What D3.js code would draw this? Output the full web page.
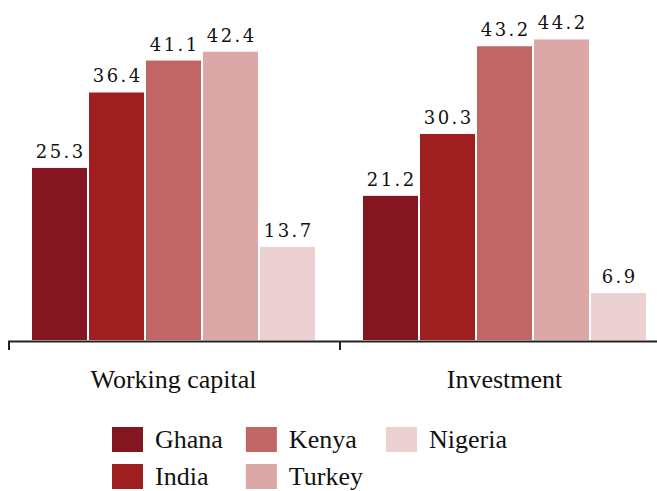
<!DOCTYPE html>
<html>
<head>
<meta charset="utf-8">
<script src="https://cdn.jsdelivr.net/npm/d3@7"></script>
<style>
  html, body { margin: 0; padding: 0; background: #fff; }
  svg { display: block; }
  text { font-family: "Liberation Serif", "Times New Roman", serif; fill: #111; }
</style>
</head>
<body>
<svg id="chart" width="657" height="491"></svg>
<script>
// Share of firms (%) by purpose and country
const purposes = ["Working capital", "Investment"];
const countries = ["Ghana", "India", "Kenya", "Turkey", "Nigeria"];
const colors = ["#831620", "#a01f21", "#c06665", "#dba7a7", "#ecd1d2"];
const workingCapital = [25.3, 36.4, 41.1, 42.4, 13.7];
const investment = [21.2, 30.3, 43.2, 44.2, 6.9];

const seriesByPurpose = [workingCapital, investment];
const data = purposes.map((p, i) => ({
  purpose: p,
  values: countries.map((c, j) => ({ country: c, value: seriesByPurpose[i][j] }))
}));

const svg = d3.select("#chart");
const baseY = 340;

const x0 = d3.scaleBand().domain(purposes).range([8, 670]);
const x1 = d3.scaleBand().domain(countries).range([24, 307]).paddingInner(0.035);
const y = d3.scaleLinear().domain([0, 50]).range([baseY, 0]);
const color = d3.scaleOrdinal().domain(countries).range(colors);

const groups = svg.selectAll("g.group")
  .data(data)
  .join("g")
  .attr("class", "group")
  .attr("transform", d => `translate(${x0(d.purpose)},0)`);

groups.selectAll("rect")
  .data(d => d.values)
  .join("rect")
  .attr("x", d => x1(d.country))
  .attr("y", d => y(d.value))
  .attr("width", x1.bandwidth())
  .attr("height", d => baseY - y(d.value))
  .attr("fill", d => color(d.country));

const spacing = 2.5;
groups.selectAll("text.value")
  .data(d => d.values)
  .join("text")
  .attr("class", "value")
  .attr("x", d => x1(d.country) + x1.bandwidth() / 2 + spacing / 2)
  .attr("y", d => y(d.value) - 10)
  .attr("text-anchor", "middle")
  .attr("font-family", "'DejaVu Serif', serif")
  .style("font-family", "'DejaVu Serif', serif")
  .style("font-size", "18px")
  .style("letter-spacing", spacing + "px")
  .text(d => d.value.toFixed(1));

// Baseline axis with ticks at group boundaries
const axis = svg.append("g").attr("class", "axis");
axis.append("line")
  .attr("x1", x0.range()[0]).attr("x2", 657)
  .attr("y1", baseY + 1.5).attr("y2", baseY + 1.5)
  .attr("stroke", "#222").attr("stroke-width", 2);
axis.selectAll("line.tick")
  .data(purposes)
  .join("line")
  .attr("class", "tick")
  .attr("x1", d => x0(d) + 1).attr("x2", d => x0(d) + 1)
  .attr("y1", baseY + 1).attr("y2", baseY + 10)
  .attr("stroke", "#222").attr("stroke-width", 2);
axis.selectAll("text.cat")
  .data(purposes)
  .join("text")
  .attr("class", "cat")
  .attr("x", d => x0(d) + x0.bandwidth() / 2)
  .attr("y", 388)
  .attr("text-anchor", "middle")
  .style("font-size", "26px")
  .text(d => d);

// Legend: two rows, filled column by column
const legend = svg.append("g").attr("class", "legend");
const sw = 31, sh = 25, textGap = 12, colGap = 23, rowY = [427, 464];
let colX = 112;
for (let c = 0; c < Math.ceil(countries.length / 2); c++) {
  const items = countries.slice(c * 2, c * 2 + 2);
  let maxW = 0;
  items.forEach((name, r) => {
    const g = legend.append("g").attr("transform", `translate(${colX},${rowY[r]})`);
    g.append("rect").attr("width", sw).attr("height", sh).attr("fill", color(name));
    const t = g.append("text")
      .attr("x", sw + textGap)
      .attr("y", sh - 4)
      .style("font-size", "26px")
      .text(name);
    maxW = Math.max(maxW, t.node().getComputedTextLength());
  });
  colX += sw + textGap + maxW + colGap;
}
</script>
</body>
</html>
